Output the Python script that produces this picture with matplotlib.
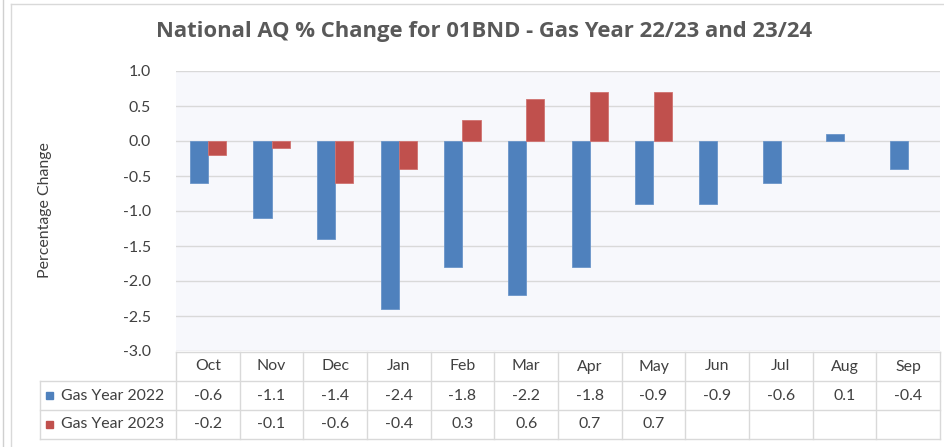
import matplotlib
matplotlib.use("Agg")
import matplotlib.pyplot as plt
from matplotlib.transforms import blended_transform_factory
from matplotlib.lines import Line2D
from matplotlib.patches import Rectangle
import numpy as np

months = ["Oct", "Nov", "Dec", "Jan", "Feb", "Mar", "Apr", "May", "Jun", "Jul", "Aug", "Sep"]
gy2022 = [-0.6, -1.1, -1.4, -2.4, -1.8, -2.2, -1.8, -0.9, -0.9, -0.6, 0.1, -0.4]
gy2023 = [-0.2, -0.1, -0.6, -0.4, 0.3, 0.6, 0.7, 0.7, None, None, None, None]
series_names = ["Gas Year 2022", "Gas Year 2023"]
title = "National AQ % Change for 01BND - Gas Year 22/23 and 23/24"
ylabel = "Percentage Change"
yticks = [1.0, 0.5, 0.0, -0.5, -1.0, -1.5, -2.0, -2.5, -3.0]

BLUE = "#4F81BD"
RED = "#C0504D"
GRID = "#D9D9D9"
TXT = "#404040"
FS = 11.4

plt.rcParams["font.family"] = ["Lato", "DejaVu Sans"]

W, H = 945, 447
fig = plt.figure(figsize=(W / 100, H / 100), dpi=100)
fig.patch.set_facecolor("white")

def fx(px):
    return px / W

def fy(py):
    return 1 - py / H

# outer frame lines
fig.add_artist(Line2D([fx(3), fx(3)], [0, 1], color="#D0D0D0", lw=1.0))
fig.add_artist(Line2D([fx(10.5), fx(10.5)], [0, fy(3.5)], color="#D9D9D9", lw=1.0))
fig.add_artist(Line2D([fx(10.5), 1], [fy(3.5), fy(3.5)], color="#D9D9D9", lw=1.0))

left, right, top, bottom = 176, 940, 71, 351
ax = fig.add_axes([fx(left), fy(bottom), fx(right) - fx(left), fy(top) - fy(bottom)])
ax.set_facecolor("#F7F8FC")

x = np.arange(len(months))
bw = 0.285
v22 = np.array(gy2022, dtype=float)
v23 = np.array([np.nan if v is None else v for v in gy2023], dtype=float)
ax.bar(x - bw / 2, v22, width=bw, color=BLUE, edgecolor="#6A95C9", linewidth=0.6, zorder=3)
ax.bar(x + bw / 2, v23, width=bw, color=RED, edgecolor="#D07270", linewidth=0.6, zorder=3)

ax.set_xlim(-0.5, len(months) - 0.5)
ax.set_ylim(-3.0, 1.0)
ax.set_yticks(yticks)
ax.set_yticklabels([f"{t:.1f}" for t in yticks], fontsize=FS, color=TXT)
ax.tick_params(axis="y", length=0, pad=18)
ax.set_xticks([])
ax.grid(axis="y", color=GRID, lw=1.0, zorder=0)
for s in ax.spines.values():
    s.set_visible(False)

fig.text(fx(45), fy(210), ylabel, rotation=90, ha="center", va="center",
         fontsize=FS, color=TXT)
fig.text(fx(484), fy(32), title, ha="center", va="center", fontsize=15.8,
         fontweight="bold", color="#595959", family=["Open Sans", "DejaVu Sans"])

# data table
trans = blended_transform_factory(ax.transData, fig.transFigure)
rows_y = [352, 381, 410, 439]
n = len(months)
fig.add_artist(Line2D([fx(left), fx(right)], [fy(rows_y[0]), fy(rows_y[0])], color=GRID, lw=1.0))
for ry in rows_y[1:]:
    fig.add_artist(Line2D([fx(40), fx(right)], [fy(ry), fy(ry)], color=GRID, lw=1.0))
for i in range(n + 1):
    xv = i - 0.5
    ax.add_line(Line2D([xv, xv], [fy(rows_y[0]), fy(rows_y[-1])], transform=trans,
                       color=GRID, lw=1.0, clip_on=False))
fig.add_artist(Line2D([fx(40), fx(40)], [fy(rows_y[1]), fy(rows_y[-1])], color=GRID, lw=1.0))

def cy(r):
    return fy((rows_y[r] + rows_y[r + 1]) / 2)

for i, m in enumerate(months):
    ax.text(i, cy(0), m, transform=trans, ha="center", va="center", fontsize=FS, color=TXT)
    ax.text(i, cy(1), f"{gy2022[i]:.1f}", transform=trans, ha="center", va="center",
            fontsize=FS, color=TXT)
    if gy2023[i] is not None:
        ax.text(i, cy(2), f"{gy2023[i]:.1f}", transform=trans, ha="center", va="center",
                fontsize=FS, color=TXT)

for r, (name, col) in enumerate(zip(series_names, [BLUE, RED]), start=1):
    fig.add_artist(Rectangle((fx(46), cy(r) - 3.5 / H), 7 / W, 7 / H, color=col))
    fig.text(fx(61), cy(r), name, ha="left", va="center", fontsize=FS, color=TXT)

fig.savefig("out.png", dpi=100, facecolor="white")
